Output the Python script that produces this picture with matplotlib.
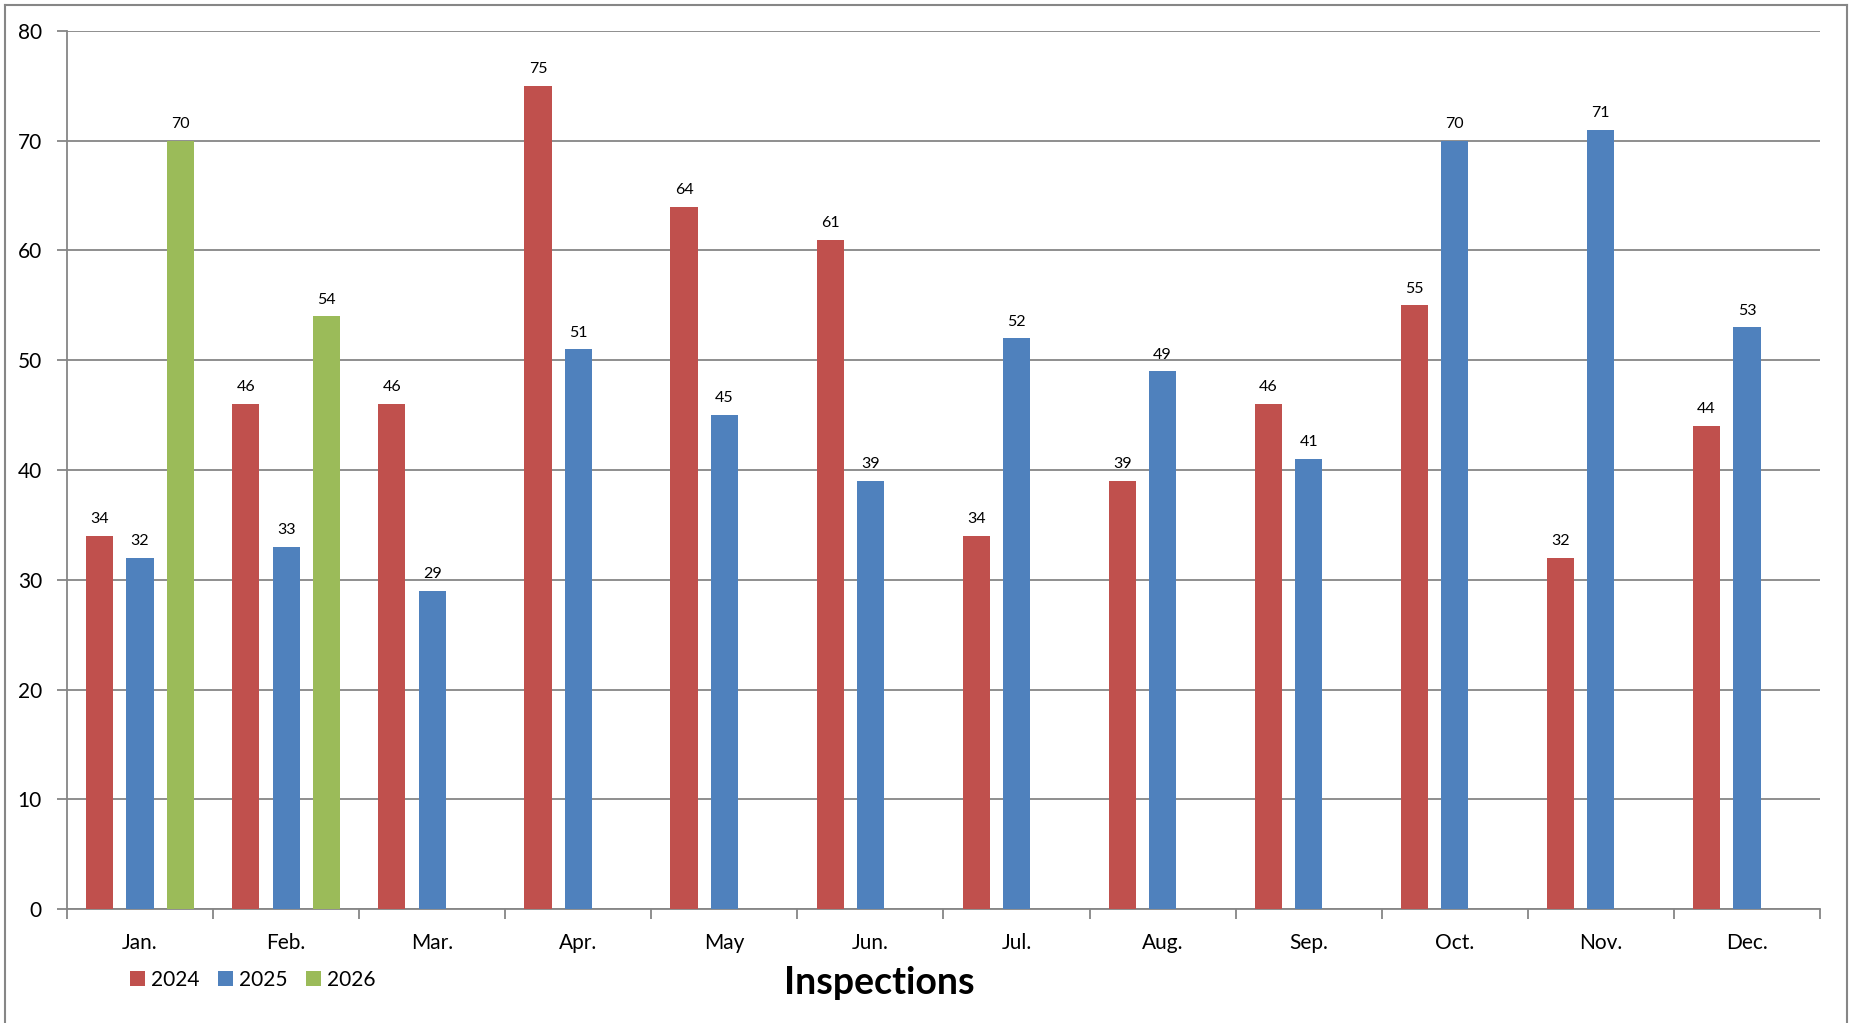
import numpy as np
import matplotlib.pyplot as plt
from matplotlib.patches import Patch
from matplotlib.lines import Line2D

plt.rcParams['font.family'] = ['Lato', 'DejaVu Sans']

# data
months = ['Jan.', 'Feb.', 'Mar.', 'Apr.', 'May', 'Jun.', 'Jul.', 'Aug.', 'Sep.', 'Oct.', 'Nov.', 'Dec.']
y2024 = [34, 46, 46, 75, 64, 61, 34, 39, 46, 55, 32, 44]
y2025 = [32, 33, 29, 51, 45, 39, 52, 49, 41, 70, 71, 53]
y2026 = [70, 54, np.nan, np.nan, np.nan, np.nan, np.nan, np.nan, np.nan, np.nan, np.nan, np.nan]
series = ['2024', '2025', '2026']
colors = ['#C0504D', '#4F81BD', '#9BBB59']
yticks = [0, 10, 20, 30, 40, 50, 60, 70, 80]

W, H = 1853, 1023
fig = plt.figure(figsize=(W / 100, H / 100), dpi=100)
ax = fig.add_axes([67 / W, 1 - 909 / H, (1820 - 67) / W, (909 - 31) / H])

grid_col = '#868686'
x = np.arange(len(months))
slot = 0.276   # distance between bars in a group
bw = 0.186     # bar width

for i, (vals, col) in enumerate(zip([y2024, y2025, y2026], colors)):
    pos = x + (i - 1) * slot
    v = np.array(vals, dtype=float)
    ok = ~np.isnan(v)
    ax.bar(pos[ok], v[ok], width=bw, color=col, zorder=3)
    for px, pv in zip(pos[ok], v[ok]):
        ax.annotate(f'{int(pv)}', (px, pv), xytext=(0, 7), textcoords='offset points',
                    ha='center', va='bottom', fontsize=11.5, color='black')

ax.set_xlim(-0.5, len(months) - 0.5)
ax.set_ylim(0, 80)
ax.set_yticks(yticks)
ax.tick_params(axis='y', direction='out', length=7, width=1.3, color=grid_col,
               labelsize=15, pad=11)
ax.yaxis.grid(True, color=grid_col, linewidth=1.3, zorder=0)

# month labels in the middle, tick marks on the boundaries
ax.set_xticks(x)
ax.set_xticklabels(months)
ax.set_xticks(np.arange(-0.5, len(months)), minor=True)
ax.tick_params(axis='x', which='major', length=0, labelsize=15, pad=17)
ax.tick_params(axis='x', which='minor', direction='out', length=7, width=1.3, color=grid_col)

for s in ['top', 'right']:
    ax.spines[s].set_visible(False)
for s in ['left', 'bottom']:
    ax.spines[s].set_color(grid_col)
    ax.spines[s].set_linewidth(1.3)

# legend and title at the bottom
handles = [Patch(facecolor=c, edgecolor='none') for c in colors]
fig.legend(handles, series, loc='center left', bbox_to_anchor=(130 / W, 1 - 980 / H),
           ncol=3, frameon=False, fontsize=15, handlelength=0.7, handleheight=0.7,
           handletextpad=0.3, columnspacing=0.9, borderpad=0, borderaxespad=0)
fig.text(879 / W, 1 - 983 / H, 'Inspections', ha='center', va='center',
         fontsize=27, fontweight='bold')

# outer frame of the chart area
for xs, ys in [([5, 1847], [5, 5]), ([5, 5], [5, H]), ([1847, 1847], [5, H])]:
    fig.add_artist(Line2D([v / W for v in xs], [1 - v / H for v in ys],
                          color=grid_col, linewidth=1.5))

fig.savefig('out.png', dpi=100)
